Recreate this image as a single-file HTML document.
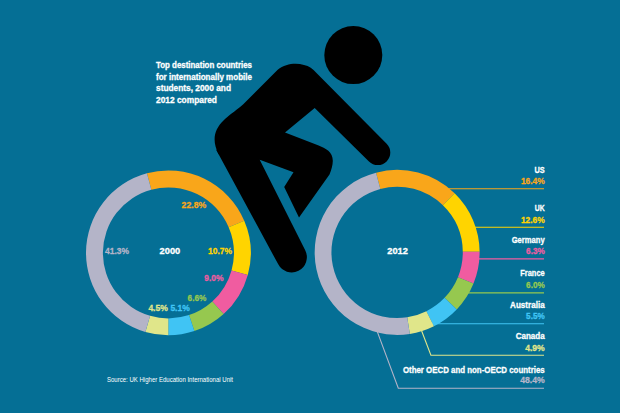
<!DOCTYPE html>
<html><head><meta charset="utf-8"><title>Top destination countries</title>
<style>
html,body{margin:0;padding:0;background:#056f95;}
body{width:620px;height:413px;overflow:hidden;}
svg{display:block;font-family:"Liberation Sans",sans-serif;}
</style></head><body>
<svg width="620" height="413" viewBox="0 0 620 413">
<rect width="620" height="413" fill="#056f95"/>
<path d="M440,188.8 H544.0" stroke="#f9a61a" stroke-width="1.1" fill="none"/>
<path d="M470,227.2 H544.0" stroke="#ffd400" stroke-width="1.1" fill="none"/>
<path d="M470,258.9 H544.0" stroke="#f05ca0" stroke-width="1.1" fill="none"/>
<path d="M460,292.9 H544.0" stroke="#96c84f" stroke-width="1.1" fill="none"/>
<path d="M430,323.7 H544.0" stroke="#40c4f4" stroke-width="1.1" fill="none"/>
<path d="M421.3,330 L430.9,355.2 H544.0" stroke="#e0e68a" stroke-width="1.1" fill="none"/>
<path d="M376.9,330.6 L398.3,388.2 H544.0" stroke="#b4b4c8" stroke-width="1.1" fill="none"/>
<path d="M146.93,173.35 A82.4,82.4 0 0 1 244.24,220.68 L228.68,227.29 A65.5,65.5 0 0 0 151.34,189.66 Z" fill="#f9a61a"/>
<path d="M244.24,220.68 A82.4,82.4 0 0 1 247.80,274.92 L231.52,270.40 A65.5,65.5 0 0 0 228.68,227.29 Z" fill="#ffd400"/>
<path d="M247.80,274.92 A82.4,82.4 0 0 1 223.64,314.04 L212.31,301.50 A65.5,65.5 0 0 0 231.52,270.40 Z" fill="#f05ca0"/>
<path d="M223.64,314.04 A82.4,82.4 0 0 1 194.33,331.11 L189.01,315.07 A65.5,65.5 0 0 0 212.31,301.50 Z" fill="#96c84f"/>
<path d="M194.33,331.11 A82.4,82.4 0 0 1 168.37,335.30 L168.38,318.40 A65.5,65.5 0 0 0 189.01,315.07 Z" fill="#40c4f4"/>
<path d="M168.37,335.30 A82.4,82.4 0 0 1 145.38,332.02 L150.10,315.79 A65.5,65.5 0 0 0 168.38,318.40 Z" fill="#e0e68a"/>
<path d="M145.38,332.02 A82.4,82.4 0 0 1 146.93,173.35 L151.34,189.66 A65.5,65.5 0 0 0 150.10,315.79 Z" fill="#b4b4c8"/>
<path d="M376.03,172.64 A82.5,82.5 0 0 1 454.60,193.24 L442.89,205.28 A65.7,65.7 0 0 0 380.32,188.88 Z" fill="#f9a61a"/>
<path d="M454.60,193.24 A82.5,82.5 0 0 1 479.60,251.67 L462.80,251.82 A65.7,65.7 0 0 0 442.89,205.28 Z" fill="#ffd400"/>
<path d="M479.60,251.67 A82.5,82.5 0 0 1 473.51,283.51 L457.95,277.17 A65.7,65.7 0 0 0 462.80,251.82 Z" fill="#f05ca0"/>
<path d="M473.51,283.51 A82.5,82.5 0 0 1 456.71,309.43 L444.57,297.82 A65.7,65.7 0 0 0 457.95,277.17 Z" fill="#96c84f"/>
<path d="M456.71,309.43 A82.5,82.5 0 0 1 433.90,326.24 L426.40,311.20 A65.7,65.7 0 0 0 444.57,297.82 Z" fill="#40c4f4"/>
<path d="M433.90,326.24 A82.5,82.5 0 0 1 409.82,333.91 L407.23,317.31 A65.7,65.7 0 0 0 426.40,311.20 Z" fill="#e0e68a"/>
<path d="M409.82,333.91 A82.5,82.5 0 0 1 376.03,172.64 L380.32,188.88 A65.7,65.7 0 0 0 407.23,317.31 Z" fill="#b4b4c8"/>
<path fill="#000" d="
M277.7,69.8
C285.5,63.5 296,62.6 304,65
C309,66 313,69 316,72.5
L386.64,143.76
A12.5,12.5 0 0 1 368.96,161.44
L314.7,108
L285,132.6
L318,145.2
C326,148.2 333,152 332.8,161
C332.7,165 331.5,170 329.5,174.5
L299,217.4
L284.2,186.9
L293.5,172.3
L259.7,159.7
L240,170
L218.5,154
C212,141 213.5,130 224,120
C228,116 234,112 243,104.5
Z"/>
<path fill="#000" d="M250,125 L259.7,159.7 L305.2,250.3 A15.2,15.2 0 0 1 278.1,264.1 L216.3,150 Z"/>
<circle cx="353.3" cy="55.1" r="29" fill="#000"/>
<text x="156" y="68.4" fill="#fff" stroke="#fff" stroke-width="0.3" font-size="9" font-weight="bold" text-anchor="start" textLength="96" lengthAdjust="spacingAndGlyphs">Top destination countries</text>
<text x="156" y="79.8" fill="#fff" stroke="#fff" stroke-width="0.3" font-size="9" font-weight="bold" text-anchor="start" textLength="96" lengthAdjust="spacingAndGlyphs">for internationally mobile</text>
<text x="156" y="91.3" fill="#fff" stroke="#fff" stroke-width="0.3" font-size="9" font-weight="bold" text-anchor="start" textLength="75" lengthAdjust="spacingAndGlyphs">students, 2000 and</text>
<text x="156" y="102.8" fill="#fff" stroke="#fff" stroke-width="0.3" font-size="9" font-weight="bold" text-anchor="start" textLength="61" lengthAdjust="spacingAndGlyphs">2012 compared</text>
<text x="107" y="382" fill="#fff" font-size="6.6" font-weight="normal" text-anchor="start" textLength="126" lengthAdjust="spacingAndGlyphs">Source: UK Higher Education International Unit</text>
<text x="169.9" y="254.3" fill="#fff" stroke="#fff" stroke-width="0.3" font-size="9.3" font-weight="bold" text-anchor="middle" textLength="20.6" lengthAdjust="spacingAndGlyphs">2000</text>
<text x="105" y="254.3" fill="#b4b4c8" stroke="#b4b4c8" stroke-width="0.3" font-size="9.3" font-weight="bold" text-anchor="start" textLength="24" lengthAdjust="spacingAndGlyphs">41.3%</text>
<text x="181.6" y="208.4" fill="#f9a61a" stroke="#f9a61a" stroke-width="0.3" font-size="9.3" font-weight="bold" text-anchor="start" textLength="24.6" lengthAdjust="spacingAndGlyphs">22.8%</text>
<text x="208" y="254.3" fill="#ffd400" stroke="#ffd400" stroke-width="0.3" font-size="9.3" font-weight="bold" text-anchor="start" textLength="24" lengthAdjust="spacingAndGlyphs">10.7%</text>
<text x="204.3" y="280.6" fill="#f05ca0" stroke="#f05ca0" stroke-width="0.3" font-size="9.3" font-weight="bold" text-anchor="start" textLength="19.2" lengthAdjust="spacingAndGlyphs">9.0%</text>
<text x="187.6" y="301.3" fill="#96c84f" stroke="#96c84f" stroke-width="0.3" font-size="9.3" font-weight="bold" text-anchor="start" textLength="18.8" lengthAdjust="spacingAndGlyphs">6.6%</text>
<text x="170.4" y="311" fill="#40c4f4" stroke="#40c4f4" stroke-width="0.3" font-size="9.3" font-weight="bold" text-anchor="start" textLength="19.4" lengthAdjust="spacingAndGlyphs">5.1%</text>
<text x="148.4" y="311" fill="#e0e68a" stroke="#e0e68a" stroke-width="0.3" font-size="9.3" font-weight="bold" text-anchor="start" textLength="19.4" lengthAdjust="spacingAndGlyphs">4.5%</text>
<text x="397.6" y="254.3" fill="#fff" stroke="#fff" stroke-width="0.3" font-size="9.3" font-weight="bold" text-anchor="middle" textLength="20.6" lengthAdjust="spacingAndGlyphs">2012</text>
<text x="544.7" y="172.9" fill="#fff" stroke="#fff" stroke-width="0.3" font-size="9.3" font-weight="bold" text-anchor="end" textLength="10.2" lengthAdjust="spacingAndGlyphs">US</text>
<text x="544.7" y="184.1" fill="#f9a61a" stroke="#f9a61a" stroke-width="0.3" font-size="9.3" font-weight="bold" text-anchor="end" textLength="23.8" lengthAdjust="spacingAndGlyphs">16.4%</text>
<text x="544.7" y="211" fill="#fff" stroke="#fff" stroke-width="0.3" font-size="9.3" font-weight="bold" text-anchor="end" textLength="9.9" lengthAdjust="spacingAndGlyphs">UK</text>
<text x="544.7" y="222.6" fill="#ffd400" stroke="#ffd400" stroke-width="0.3" font-size="9.3" font-weight="bold" text-anchor="end" textLength="23.8" lengthAdjust="spacingAndGlyphs">12.6%</text>
<text x="544.7" y="243" fill="#fff" stroke="#fff" stroke-width="0.3" font-size="9.3" font-weight="bold" text-anchor="end" textLength="33" lengthAdjust="spacingAndGlyphs">Germany</text>
<text x="544.7" y="254.4" fill="#f05ca0" stroke="#f05ca0" stroke-width="0.3" font-size="9.3" font-weight="bold" text-anchor="end" textLength="18.6" lengthAdjust="spacingAndGlyphs">6.3%</text>
<text x="544.7" y="276.4" fill="#fff" stroke="#fff" stroke-width="0.3" font-size="9.3" font-weight="bold" text-anchor="end" textLength="24.4" lengthAdjust="spacingAndGlyphs">France</text>
<text x="544.7" y="288.1" fill="#96c84f" stroke="#96c84f" stroke-width="0.3" font-size="9.3" font-weight="bold" text-anchor="end" textLength="18.6" lengthAdjust="spacingAndGlyphs">6.0%</text>
<text x="544.7" y="307.8" fill="#fff" stroke="#fff" stroke-width="0.3" font-size="9.3" font-weight="bold" text-anchor="end" textLength="34.6" lengthAdjust="spacingAndGlyphs">Australia</text>
<text x="544.7" y="319.4" fill="#40c4f4" stroke="#40c4f4" stroke-width="0.3" font-size="9.3" font-weight="bold" text-anchor="end" textLength="18.6" lengthAdjust="spacingAndGlyphs">5.5%</text>
<text x="544.7" y="339.2" fill="#fff" stroke="#fff" stroke-width="0.3" font-size="9.3" font-weight="bold" text-anchor="end" textLength="29" lengthAdjust="spacingAndGlyphs">Canada</text>
<text x="544.7" y="350.6" fill="#e0e68a" stroke="#e0e68a" stroke-width="0.3" font-size="9.3" font-weight="bold" text-anchor="end" textLength="19.5" lengthAdjust="spacingAndGlyphs">4.9%</text>
<text x="544.7" y="372.5" fill="#fff" stroke="#fff" stroke-width="0.3" font-size="9.3" font-weight="bold" text-anchor="end" textLength="141.8" lengthAdjust="spacingAndGlyphs">Other OECD and non-OECD countries</text>
<text x="544.7" y="383.3" fill="#b4b4c8" stroke="#b4b4c8" stroke-width="0.3" font-size="9.3" font-weight="bold" text-anchor="end" textLength="24.5" lengthAdjust="spacingAndGlyphs">48.4%</text>
</svg>
</body></html>
